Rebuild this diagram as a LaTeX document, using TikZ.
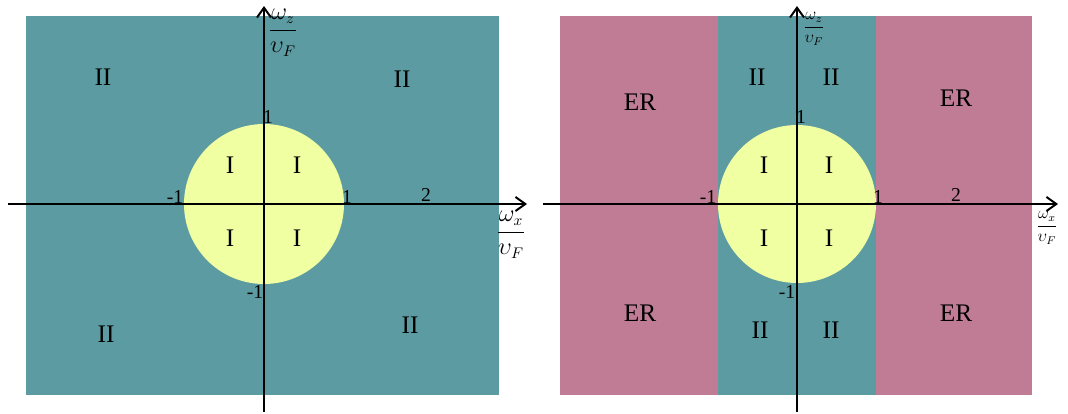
\documentclass[tikz,border=0pt]{standalone}
\usepackage{fontspec}
\setmainfont{Liberation Serif}
\usetikzlibrary{arrows.meta}
\definecolor{teal1}{HTML}{5C9BA1}
\definecolor{yel1}{HTML}{EFFFA1}
\definecolor{pink1}{HTML}{C17C95}
\tikzset{
  axis/.style={line width=1.4pt,-{Straight Barb[length=7pt,width=10pt,line width=1.4pt]}},
  region/.style={font=\fontsize{18}{21}\selectfont,inner sep=0pt},
  tick/.style={font=\fontsize{14}{16}\selectfont,inner sep=0pt},
  bigfrac/.style={inner sep=0pt,font=\fontsize{16}{19}\selectfont},
  smallfrac/.style={inner sep=0pt,font=\fontsize{12}{14}\selectfont}
}
\begin{document}
\begin{tikzpicture}[x=0.025cm,y=-0.025cm]
\useasboundingbox (0,0) rectangle (1068,414);
% left panel
\fill[teal1] (26,16) rectangle (499,395);
\fill[yel1] (264,204) circle (80);
\node[region] (l1) at (103,77) {II};
\node[region] (l2) at (402,79) {II};
\node[region] (l3) at (106,334) {II};
\node[region] (l4) at (410,325) {II};
\node[region] (c1) at (230,165) {I};
\node[region] (c2) at (297,165) {I};
\node[region] (c3) at (230,238) {I};
\node[region] (c4) at (297,238) {I};
\coordinate (lxs) at (8,204);
\coordinate (lxe) at (527,204);
\coordinate (lys) at (264,412);
\coordinate (lye) at (264,6);
\draw[axis] (lxs) -- (lxe);
\draw[axis] (lys) -- (lye);
\node[tick] (lt1) at (268,117) {1};
\node[tick] (lt2) at (175,197) {-1};
\node[tick] (lt3) at (347,197) {1};
\node[tick] (lt4) at (426,195) {2};
\node[tick] (lt5) at (255,292) {-1};
\node[bigfrac] (lfz) at (283,33) {$\displaystyle\frac{\omega_z}{\upsilon_F}$};
\node[bigfrac] (lfx) at (511,235) {$\displaystyle\frac{\omega_x}{\upsilon_F}$};
% right panel
\fill[pink1] (560,16) rectangle (1032,395);
\fill[teal1] (718,16) rectangle (876,395);
\fill[yel1] (797,204) circle (79);
\node[region] (r1) at (640,102) {ER};
\node[region] (r2) at (956,98) {ER};
\node[region] (r3) at (640,313) {ER};
\node[region] (r4) at (956,313) {ER};
\node[region] (r5) at (757,77) {II};
\node[region] (r6) at (831,77) {II};
\node[region] (r7) at (760,330) {II};
\node[region] (r8) at (831,330) {II};
\node[region] (d1) at (764,165) {I};
\node[region] (d2) at (829,165) {I};
\node[region] (d3) at (764,238) {I};
\node[region] (d4) at (829,238) {I};
\coordinate (rxs) at (543,204);
\coordinate (rxe) at (1058,204);
\coordinate (rys) at (797,412);
\coordinate (rye) at (797,6);
\draw[axis] (rxs) -- (rxe);
\draw[axis] (rys) -- (rye);
\node[tick] (rt1) at (801,117) {1};
\node[tick] (rt2) at (708,197) {-1};
\node[tick] (rt3) at (878,197) {1};
\node[tick] (rt4) at (956,195) {2};
\node[tick] (rt5) at (787,292) {-1};
\node[smallfrac] (rfz) at (814,29) {$\displaystyle\frac{\omega_z}{\upsilon_F}$};
\node[smallfrac] (rfx) at (1047,228) {$\displaystyle\frac{\omega_x}{\upsilon_F}$};
\end{tikzpicture}
\end{document}
